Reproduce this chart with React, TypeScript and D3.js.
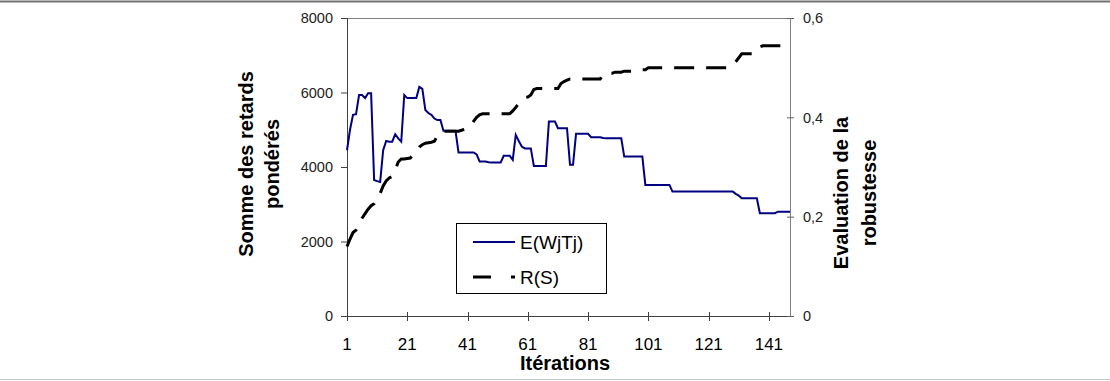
import React from "react";
import * as d3 from "d3";

const iterations: number[] = Array.from({ length: 148 }, (_, i) => i + 1);

const sommeRetards: number[] = [
  4450, 5000, 5400, 5420, 5930, 5930, 5850, 5980, 5980, 3650,
  3620, 3600, 4450, 4700, 4680, 4680, 4880, 4770, 4680, 5930,
  5850, 5850, 5850, 5850, 6150, 6100, 5530, 5450, 5400, 5300,
  5260, 5260, 4975, 4975, 4975, 4975, 4975, 4390, 4390, 4390,
  4390, 4390, 4390, 4340, 4150, 4150, 4150, 4130, 4120, 4120,
  4120, 4120, 4300, 4300, 4300, 4190, 4860, 4700, 4550, 4500,
  4500, 4500, 4030, 4030, 4030, 4030, 4030, 5220, 5220, 5220,
  5040, 5040, 5040, 5040, 4060, 4060, 4890, 4890, 4890, 4890,
  4890, 4800, 4800, 4800, 4800, 4780, 4770, 4770, 4770, 4770,
  4770, 4770, 4280, 4280, 4280, 4280, 4280, 4280, 4280, 3520,
  3520, 3520, 3520, 3520, 3520, 3520, 3520, 3520, 3340, 3340,
  3340, 3340, 3340, 3340, 3340, 3340, 3340, 3340, 3340, 3340,
  3340, 3340, 3340, 3340, 3340, 3340, 3340, 3340, 3340, 3280,
  3230, 3160, 3160, 3160, 3160, 3160, 3160, 2760, 2760, 2760,
  2760, 2760, 2760, 2800, 2800, 2800, 2800, 2800,
];

const robustesse: number[] = [
  0.140, 0.155, 0.168, 0.173, 0.185, 0.197, 0.206, 0.215, 0.222, 0.226,
  0.236, 0.247, 0.262, 0.272, 0.278, 0.281, 0.294, 0.310, 0.316, 0.316,
  0.317, 0.318, 0.325, 0.331, 0.340, 0.345, 0.348, 0.349, 0.350, 0.352,
  0.362, 0.371, 0.372, 0.372, 0.372, 0.372, 0.372, 0.372, 0.374, 0.376,
  0.380, 0.382, 0.392, 0.400, 0.405, 0.407, 0.407, 0.407, 0.407, 0.407,
  0.407, 0.407, 0.407, 0.407, 0.407, 0.413, 0.420, 0.428, 0.432, 0.440,
  0.441, 0.445, 0.456, 0.458, 0.458, 0.458, 0.458, 0.458, 0.458, 0.458,
  0.458, 0.468, 0.472, 0.475, 0.477, 0.477, 0.477, 0.477, 0.477, 0.477,
  0.477, 0.477, 0.477, 0.477, 0.477, 0.487, 0.489, 0.489, 0.489, 0.491,
  0.491, 0.491, 0.493, 0.493, 0.493, 0.493, 0.496, 0.496, 0.496, 0.496,
  0.500, 0.500, 0.500, 0.500, 0.500, 0.500, 0.500, 0.500, 0.500, 0.500,
  0.500, 0.500, 0.500, 0.500, 0.500, 0.500, 0.500, 0.500, 0.500, 0.500,
  0.500, 0.500, 0.500, 0.500, 0.500, 0.500, 0.500, 0.500, 0.505, 0.512,
  0.520, 0.528, 0.528, 0.528, 0.528, 0.528, 0.535, 0.542, 0.544, 0.544,
  0.544, 0.544, 0.544, 0.544, 0.544, 0.547, 0.547, 0.547,
];

const xTickLabels: number[] = [1, 21, 41, 61, 81, 101, 121, 141];
const leftTicks: number[] = [0, 2000, 4000, 6000, 8000];
const rightTicks: number[] = [0, 0.2, 0.4, 0.6];
const seriesNames: string[] = ["E(WjTj)", "R(S)"];

const W = 1110;
const H = 381;
const L = 347;
const R = 790;
const T = 18;
const B = 316;

export default function App() {
  const x = d3.scaleLinear().domain([1, 148]).range([L, R]);
  const yL = d3.scaleLinear().domain([0, 8000]).range([B, T]);
  const yR = d3.scaleLinear().domain([0, 0.6]).range([B, T]);

  const lineE = d3
    .line<number>()
    .x((_, i) => x(iterations[i]))
    .y((d) => yL(d));
  const lineR = d3
    .line<number>()
    .x((_, i) => x(iterations[i]))
    .y((d) => yR(d));

  const font = "'Liberation Sans', Arial, sans-serif";
  const axisColor = "#404040";
  const fmtR = (v: number) => (v === 0 ? "0" : v.toFixed(1).replace(".", ","));
  const midLeft = 164;
  const midRight = 193;

  return (
    <svg
      width={W}
      height={H}
      style={{ position: "absolute", left: 0, top: 0, background: "#fff" }}
      fontFamily={font}
    >
      <rect x={0} y={0} width={W} height={H} fill="#fff" />
      <line x1={0} x2={W} y1={1.5} y2={1.5} stroke="#707070" strokeWidth={2} />
      <line x1={0} x2={W} y1={379.5} y2={379.5} stroke="#c8c8c8" strokeWidth={1} />

      {/* plot frame */}
      <line x1={L} x2={R} y1={T + 0.5} y2={T + 0.5} stroke="#808080" strokeWidth={1} />
      <line x1={L + 0.5} x2={L + 0.5} y1={T} y2={B} stroke={axisColor} strokeWidth={1} />
      <line x1={R + 0.5} x2={R + 0.5} y1={T} y2={B} stroke="#808080" strokeWidth={1} />
      <line x1={L} x2={R} y1={B + 0.5} y2={B + 0.5} stroke={axisColor} strokeWidth={1} />

      {/* left ticks */}
      {leftTicks.map((t) => (
        <g key={"l" + t}>
          <line x1={L - 6} x2={L} y1={yL(t) + 0.5} y2={yL(t) + 0.5} stroke={axisColor} />
          <text
            x={333}
            y={yL(t)}
            dy="0.36em"
            textAnchor="end"
            fontSize={14.5}
            fill="#222"
          >
            {t}
          </text>
        </g>
      ))}

      {/* right ticks */}
      {rightTicks.map((t) => (
        <g key={"r" + t}>
          <line x1={R - 3} x2={R + 4} y1={yR(t) + 0.5} y2={yR(t) + 0.5} stroke="#606060" />
          <text x={803} y={yR(t)} dy="0.36em" textAnchor="start" fontSize={14.5} fill="#222">
            {fmtR(t)}
          </text>
        </g>
      ))}

      {/* x ticks */}
      {xTickLabels.map((t) => (
        <g key={"x" + t}>
          <line
            x1={Math.round(x(t)) + 0.5}
            x2={Math.round(x(t)) + 0.5}
            y1={B - 4}
            y2={B + 5}
            stroke={axisColor}
          />
          <text x={x(t)} y={350} textAnchor="middle" fontSize={17} fill="#000">
            {t}
          </text>
        </g>
      ))}

      {/* series */}
      <path d={lineE(sommeRetards) || ""} fill="none" stroke="#000080" strokeWidth={2} />
      <path
        d={lineR(robustesse) || ""}
        fill="none"
        stroke="#000"
        strokeWidth={3}
        strokeDasharray="20,12"
      />

      {/* axis titles */}
      <text x={565} y={370} textAnchor="middle" fontSize={20} fontWeight="bold">
        Itérations
      </text>
      <g transform={`translate(253, ${midLeft}) rotate(-90)`}>
        <text x={0} y={0} textAnchor="middle" fontSize={20} fontWeight="bold">
          Somme des retards
        </text>
      </g>
      <g transform={`translate(279, ${midLeft}) rotate(-90)`}>
        <text x={0} y={0} textAnchor="middle" fontSize={20} fontWeight="bold">
          pondérés
        </text>
      </g>
      <g transform={`translate(848, ${midRight}) rotate(-90)`}>
        <text x={0} y={0} textAnchor="middle" fontSize={20} fontWeight="bold">
          Evaluation de la
        </text>
      </g>
      <g transform={`translate(876, ${midRight}) rotate(-90)`}>
        <text x={0} y={0} textAnchor="middle" fontSize={20} fontWeight="bold">
          robustesse
        </text>
      </g>

      {/* legend */}
      <rect x={456.5} y={223.5} width={150} height={70} fill="#fff" stroke="#000" strokeWidth={1} />
      <line x1={473} x2={515} y1={242} y2={242} stroke="#000080" strokeWidth={2} />
      <text x={520} y={249} fontSize={19} fill="#000">
        {seriesNames[0]}
      </text>
      <line
        x1={473}
        x2={515}
        y1={277}
        y2={277}
        stroke="#000"
        strokeWidth={3}
        strokeDasharray="18,20"
      />
      <text x={520} y={284} fontSize={19} fill="#000">
        {seriesNames[1]}
      </text>
    </svg>
  );
}
